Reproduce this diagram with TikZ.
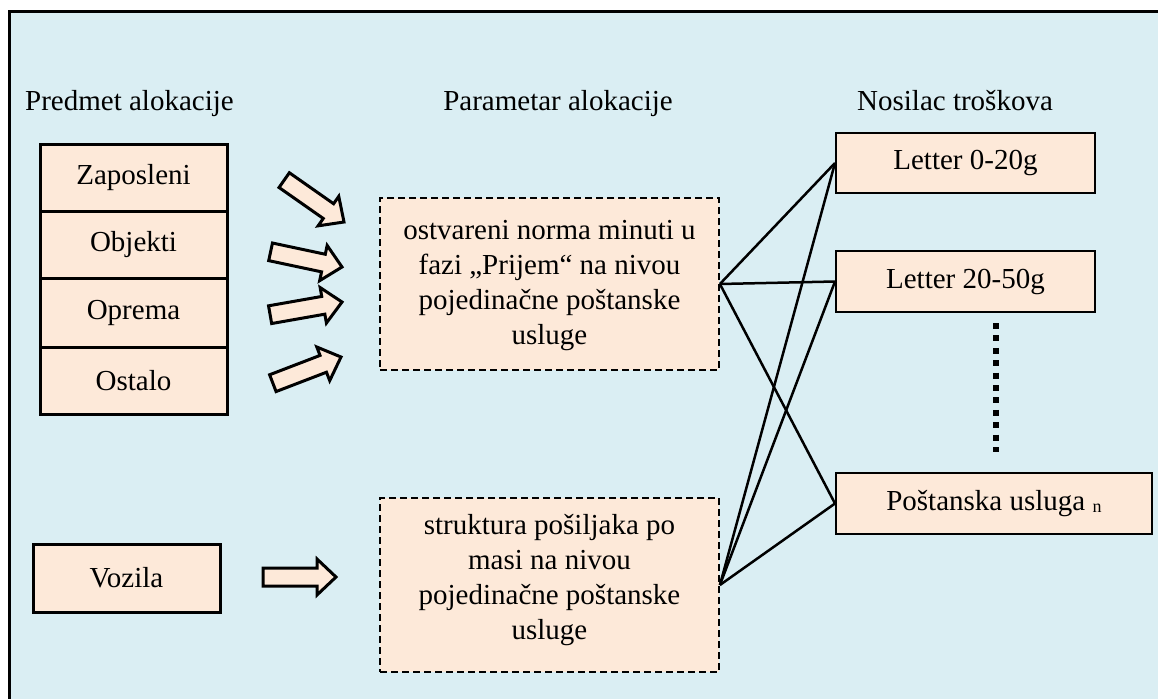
\documentclass[tikz,border=0pt]{standalone}
\usepackage{fontspec}
\setmainfont{Liberation Serif}
\usetikzlibrary{calc}
\definecolor{panelblue}{HTML}{DAEEF3}
\definecolor{boxpeach}{HTML}{FDE9D9}

\tikzset{
  pics/blockarr/.style={code={
    % block arrow with its tip at the origin, pointing along +x
    \path[blockarrow] (-73,-9) -- (-19,-9) -- (-19,-18) -- (0,0)
      -- (-19,18) -- (-19,9) -- (-73,9) -- cycle;
  }}
}

\begin{document}
\begin{tikzpicture}[x=1pt,y=-1pt,
  every node/.style={font=\fontsize{29}{35}\selectfont, inner sep=0pt},
  itembox/.style={draw, line width=3pt, fill=boxpeach,
    minimum width=187pt, minimum height=67pt},
  costbox/.style={draw, line width=1.8pt, fill=boxpeach, minimum height=61pt},
  parambox/.style={draw, line width=1.8pt, dash pattern=on 7pt off 4pt,
    fill=boxpeach, minimum width=339pt},
  paramtext/.style={anchor=north, align=center},
  link/.style={line width=2.5pt},
  blockarrow/.style={draw, line width=3pt, fill=boxpeach, line join=miter},
]
\useasboundingbox (0,0) rectangle (1158,699);

% panel background and its frame
\fill[panelblue] (9.5,11) rectangle (1158,699);
\draw[line width=3pt] (1158,11) -- (9.5,11) -- (9.5,699);

% column headings
\node[anchor=base west] (hsrc) at (25,110) {Predmet alokacije};
\node[anchor=base] (hpar) at (558,110) {Parametar alokacije};
\node[anchor=base] (hcost) at (955,110) {Nosilac troškova};

% allocation subjects
\node[itembox] (zap) at (133.5,177.5) {Zaposleni};
\node[itembox] (obj) at (133.5,244.5) {Objekti};
\node[itembox, minimum height=69pt] (opr) at (133.5,312.5) {Oprema};
\node[itembox] (ost) at (133.5,380.5) {Ostalo};
\node[itembox, minimum height=68pt] (voz) at (126.5,578) {Vozila};

% allocation parameters
\node[parambox, minimum height=172pt] (p1) at (549.5,284) {};
\node[paramtext] (p1text) at (549.5,215) {\strut ostvareni norma minuti u\\
  fazi „Prijem“ na nivou\\ pojedinačne poštanske\\ usluge};
\node[parambox, minimum height=174pt] (p2) at (549.5,585) {};
\node[paramtext] (p2text) at (549.5,510) {\strut struktura pošiljaka po\\
  masi na nivou\\ pojedinačne poštanske\\ usluge};

% cost objects
\node[costbox, minimum width=259pt, minimum height=60pt] (l1) at (965.4,163) {Letter 0-20g};
\node[costbox, minimum width=259pt] (l2) at (965.4,281.5) {Letter 20-50g};
\node[costbox, minimum width=316pt] (pn) at (993.9,503.5)
  {Poštanska usluga {\fontsize{18}{18}\selectfont\raisebox{-2pt}{n}}};

% ellipsis between the cost objects
\draw[line width=6.5pt, dash pattern=on 6pt off 6.4pt] (996,323) -- (996,452);

% block arrows into the parameters
\pic[rotate=-35] at (344,222) {blockarr};
\pic[rotate=-12] at (342,267) {blockarr};
\pic[rotate=10] at (342,302) {blockarr};
\pic[rotate=21] at (341,357) {blockarr};
\pic at (336,577) {blockarr};

% links from parameters to cost objects
\draw[link] (p1.east) -- (l1.west);
\draw[link] (p1.east) -- (l2.west);
\draw[link] (p1.east) -- (pn.west);
\draw[link] (p2.east) -- (l1.west);
\draw[link] (p2.east) -- (l2.west);
\draw[link] (p2.east) -- (pn.west);
\end{tikzpicture}
\end{document}
